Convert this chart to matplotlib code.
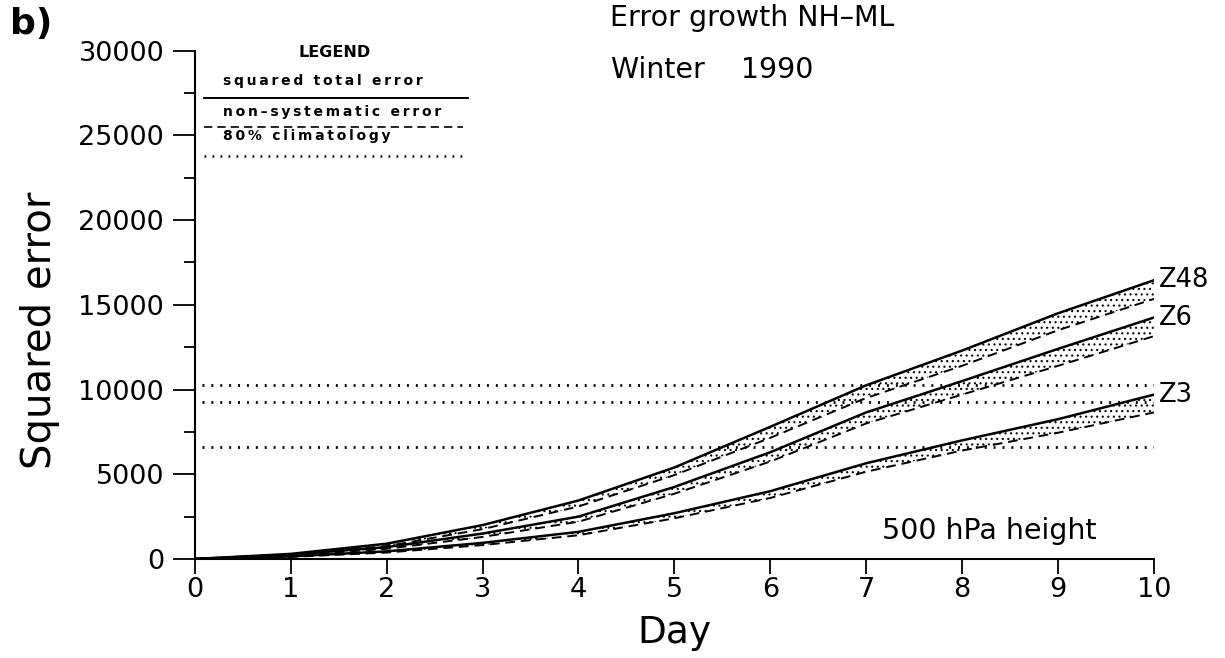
"""Error growth of 500 hPa height forecasts, NH mid-latitudes, winter 1990."""
import matplotlib.pyplot as plt

# forecast day
days = [0, 1, 2, 3, 4, 5, 6, 7, 8, 9, 10]

# squared total error / non-systematic error per model
z48_total = [0, 300, 900, 2000, 3450, 5400, 7800, 10250, 12300, 14500, 16450]
z48_nonsys = [0, 250, 760, 1760, 3100, 4950, 7150, 9500, 11400, 13500, 15350]
z6_total = [0, 250, 700, 1500, 2500, 4250, 6300, 8650, 10500, 12400, 14250]
z6_nonsys = [0, 200, 600, 1300, 2200, 3850, 5750, 8000, 9700, 11400, 13150]
z3_total = [0, 150, 450, 950, 1600, 2700, 4000, 5650, 7000, 8250, 9700]
z3_nonsys = [0, 120, 380, 820, 1400, 2400, 3600, 5150, 6400, 7450, 8650]

# 80% of climatological variance
clim_levels = [10250, 9250, 6600]

series = [
    ("Z48", z48_total, z48_nonsys),
    ("Z6", z6_total, z6_nonsys),
    ("Z3", z3_total, z3_nonsys),
]

plt.rcParams["font.family"] = ["DejaVu Sans"]
plt.rcParams["hatch.linewidth"] = 0.8

DASH = (0, (5, 3))
DOTS = (0, (0.7, 2.5))


def spaced(s):
    # letter-spaced legend lettering
    return "\u2009".join(s)


fig = plt.figure(figsize=(12.25, 6.58), dpi=100)
ax = fig.add_axes([0.159, 0.1505, 0.783, 0.7725])

for name, total, nonsys in series:
    ax.fill_between(days, nonsys, total, facecolor="none", edgecolor="black",
                    hatch="...", linewidth=0)
    ax.plot(days, total, color="black", lw=1.8)
    ax.plot(days, nonsys, color="black", lw=1.4, ls=DASH)
    ax.text(10.05, total[-1], name, fontsize=18.5, va="center", ha="left")

for level in clim_levels:
    ax.plot([0.08, 10], [level, level], color="black", lw=2, ls=DOTS)

# legend block in the upper left corner
ax.text(1.46, 29900, "LEGEND", fontsize=11.5, fontweight="bold", ha="center", va="center")
ax.text(0.29, 28200, spaced("squared total error"), fontsize=10, fontweight="bold", va="center")
ax.plot([0.1, 2.85], [27200, 27200], color="black", lw=1.4)
ax.text(0.29, 26400, spaced("non–systematic error"), fontsize=10, fontweight="bold", va="center")
ax.plot([0.1, 2.8], [25500, 25500], color="black", lw=1.2, ls=DASH)
ax.text(0.29, 24950, spaced("80% climatology"), fontsize=10, fontweight="bold", va="center")
ax.plot([0.1, 2.8], [23800, 23800], color="black", lw=1.8, ls=DOTS)

ax.text(7.16, 1650, "500 hPa height", fontsize=20.5, va="center", ha="left")

ax.set_xlim(0, 10)
ax.set_ylim(0, 30000)
ax.set_xticks(range(0, 11))
ax.set_yticks(range(0, 30001, 5000))
ax.set_yticks(range(0, 30001, 2500), minor=True)
for side in ("top", "right"):
    ax.spines[side].set_visible(False)
for side in ("left", "bottom"):
    ax.spines[side].set_linewidth(1.5)
ax.tick_params(axis="both", which="major", direction="out", width=1.3, labelsize=19.5)
ax.tick_params(axis="x", which="major", length=11, pad=2)
ax.tick_params(axis="y", which="major", length=16, pad=6)
ax.tick_params(axis="y", which="minor", direction="out", length=8, width=1.3)
ax.set_xlabel("Day", fontsize=27)
ax.xaxis.set_label_coords(0.5, -0.11)
ax.set_ylabel("Squared error", fontsize=29)
ax.yaxis.set_label_coords(-0.14, 0.45)

fig.text(0.614, 0.972, "Error growth NH–ML", fontsize=20.5, ha="center", va="center")
fig.text(0.581, 0.894, "Winter    1990", fontsize=20.5, ha="center", va="center")
fig.text(0.008, 0.964, "b)", fontsize=26, fontweight="bold", va="center")

fig.savefig("out.png", dpi=100)
